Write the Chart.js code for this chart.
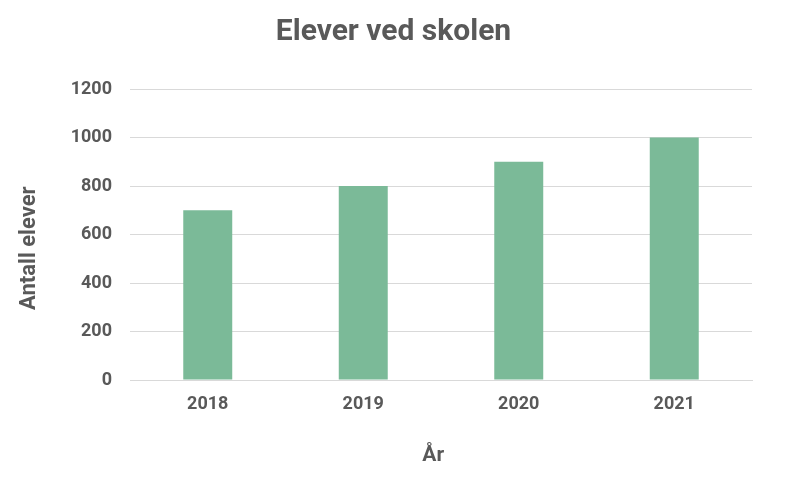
<!DOCTYPE html>
<html lang="no">
<head>
    <meta charset="UTF-8">
    <title>Elever ved skolen</title>
    <script src="https://cdn.jsdelivr.net/npm/chart.js@4/dist/chart.umd.min.js"></script>
    <style>
        html, body { margin: 0; padding: 0; background: #ffffff; }
        .wrap { width: 787px; height: 483px; }
    </style>
</head>
<body>
    <div class="wrap">
        <canvas id="chart1" width="787" height="483"></canvas>
    </div>

<script>
    // data
    let years = ["2018", "2019", "2020", "2021"];
    let students = [700, 800, 900, 1000];
    let yTicks = [0, 200, 400, 600, 800, 1000, 1200];

    let textColor = "#595959";
    let barColor = "#7bba98";
    let gridColor = "#d9d9d9";

    Chart.defaults.font.family = "Roboto";
    Chart.defaults.font.weight = "bold";
    Chart.defaults.color = textColor;

    new Chart("chart1", {
        type: "bar",
        data: {
            labels: years,
            datasets: [{
                label: "Antall elever",
                data: students,
                backgroundColor: barColor,
                borderWidth: 0,
                barPercentage: 0.315,
                categoryPercentage: 1
            }]
        },
        options: {
            responsive: false,
            animation: false,
            // same padding both sides so the title sits in the middle of the canvas
            layout: {
                padding: { left: 35, right: 35, top: 0, bottom: 15 }
            },
            plugins: {
                legend: { display: false },
                tooltip: { enabled: false },
                title: {
                    display: true,
                    text: "Elever ved skolen",
                    color: textColor,
                    font: { size: 30, weight: "bold" },
                    padding: { top: 14, bottom: 39 }
                }
            },
            scales: {
                x: {
                    grid: { display: false, drawTicks: false },
                    border: { display: true, color: gridColor, width: 1 },
                    ticks: { font: { size: 18 }, padding: 14, color: textColor },
                    title: {
                        display: true,
                        // trailing spaces nudge the label a bit left, like the original
                        text: "År   ",
                        color: textColor,
                        font: { size: 21, weight: "bold" },
                        padding: { top: 0, bottom: 0 }
                    },
                    afterFit: function (scale) { scale.height = 88; }
                },
                y: {
                    min: 0,
                    max: 1200,
                    afterBuildTicks: function (scale) {
                        scale.ticks = yTicks.map(function (v) { return { value: v }; });
                    },
                    grid: { color: gridColor, drawTicks: false },
                    border: { display: false },
                    ticks: {
                        font: { size: 18 },
                        padding: 18,
                        color: textColor,
                        callback: function (value) { return String(value); }
                    },
                    title: {
                        display: true,
                        text: "Antall elever     ",
                        color: textColor,
                        font: { size: 22, weight: "bold" },
                        padding: { top: -19, bottom: 0 }
                    },
                    afterFit: function (scale) { scale.width = 95; }
                }
            }
        }
    });
</script>
</body>
</html>
